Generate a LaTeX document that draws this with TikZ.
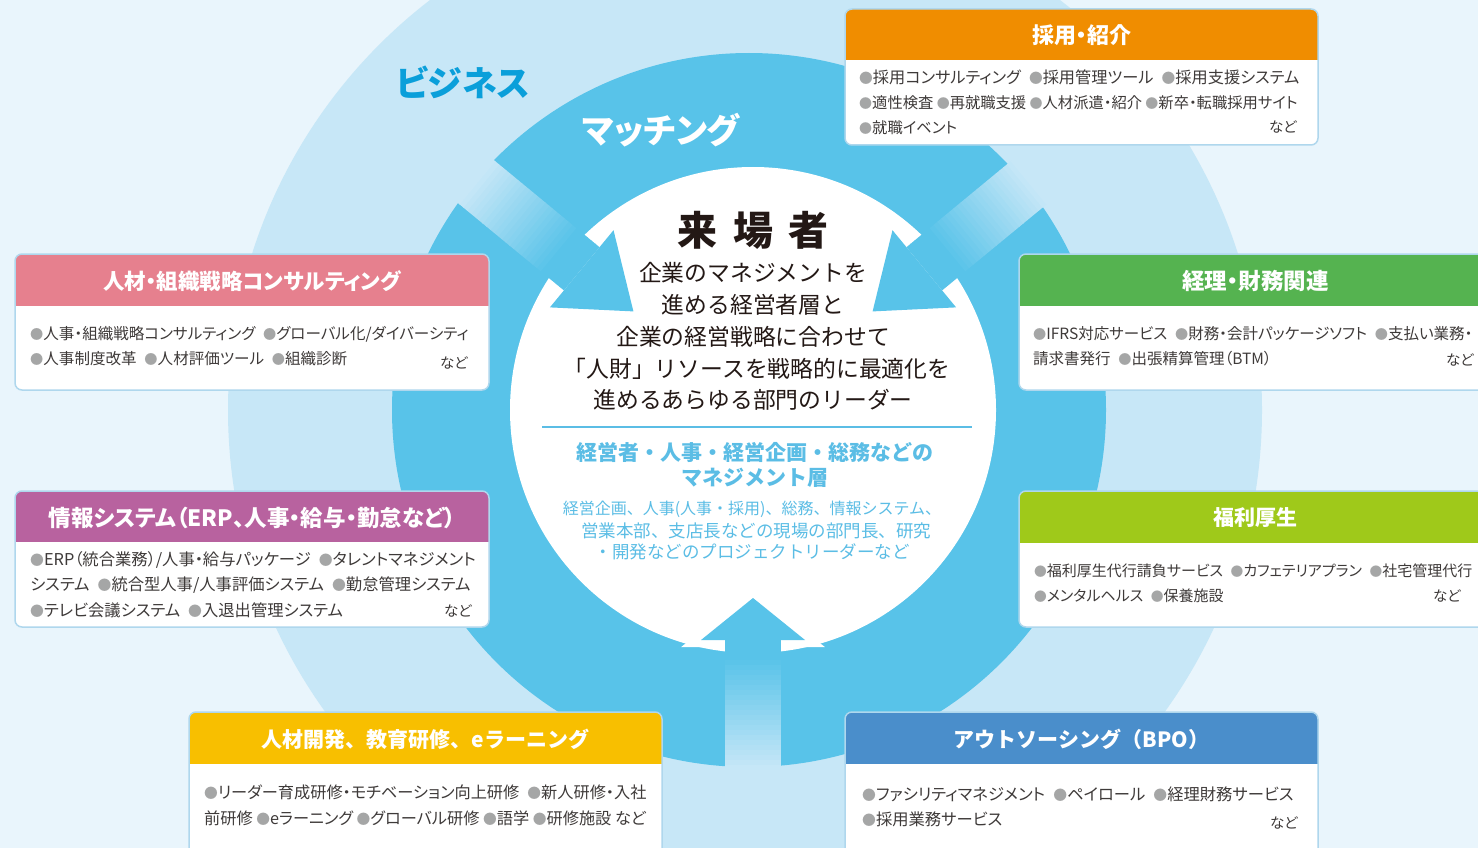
\documentclass[tikz,border=0pt]{standalone}
\usepackage{fontspec}
\setmainfont{Noto Sans CJK JP}[RawFeature=+palt]
\newfontfamily\plainjp{Noto Sans CJK JP}
\definecolor{pagebg}{HTML}{E9F5FC}
\definecolor{bigc}{HTML}{C7E7F7}
\definecolor{ring}{HTML}{58C3E9}
\definecolor{bizblue}{HTML}{0A9FDA}
\definecolor{ink}{HTML}{231815}
\definecolor{bodyink}{HTML}{3E3A39}
\definecolor{dotgray}{HTML}{A5A6A6}
\definecolor{midblue}{HTML}{5BBDE5}
\definecolor{boxedge}{HTML}{AFD7ED}
\definecolor{hdorange}{HTML}{F08D00}
\definecolor{hdpink}{HTML}{E6808E}
\definecolor{hdpurple}{HTML}{B8629F}
\definecolor{hdgreen}{HTML}{55B350}
\definecolor{hdlime}{HTML}{9FC91A}
\definecolor{hdyellow}{HTML}{F8BF00}
\definecolor{hdblue}{HTML}{4A8ECB}
\usetikzlibrary{positioning}

\newcommand{\dotb}{{\color{dotgray}\scalebox{0.85}{●}}}
\newcommand{\gap}{\hspace{0.5em}}
\newcommand{\sgap}{\hspace{0.22em}}
\newcommand{\fs}[1]{\fontsize{#1}{#1}\selectfont}

% arrow into the centre: angle, tip distance, head length, head half width
\newcommand{\inarrow}[4]{%
\begin{scope}[shift={(753,410)},rotate=#1]
  \pgfmathsetmacro{\hb}{#2+#3}
  \draw[white,line width=14pt,line join=miter] (#2,0) -- (\hb,#4) -- (\hb,-#4) -- cycle;
  \foreach \i in {0,...,27}{
    \pgfmathsetmacro{\stripr}{\hb+\i*5}
    \pgfmathsetmacro{\strippct}{max(0,min(100,(358-\stripr-2.5)/108*100))}
    \fill[ring!\strippct!bigc] (\stripr,-28) rectangle (\stripr+5.6,28);
  }
  \fill[ring] (#2,0) -- (\hb,#4) -- (\hb,-#4) -- cycle;
\end{scope}}

% box with coloured header: x1, y1, x2, y2, header bottom, colour, title, name
\newcommand{\infobox}[8]{%
  \fill[white,rounded corners=7pt] (#1,#2) rectangle (#3,#4);
  \begin{scope}
    \clip[rounded corners=7pt] (#1,#2) rectangle (#3,#4);
    \fill[#6] (#1,#2) rectangle (#3,#5);
  \end{scope}
  \draw[boxline] (#1,#2) rectangle (#3,#4);
  \node[headtext] (#8) at ({(#1+#3)/2},{(#2+#5)/2+1}) {#7};}

\begin{document}
\begin{tikzpicture}[x=1pt,y=-1pt,
    boxline/.style={draw=boxedge,line width=1.5pt,rounded corners=7pt},
    headtext/.style={text=white,font=\plainjp\bfseries\fs{21},inner sep=0pt},
    itemline/.style={anchor=west,text=bodyink,font=\fs{15.8},inner sep=0pt},
    etc/.style={anchor=east,text=bodyink,font=\fs{14.5},inner sep=0pt},
    leadtext/.style={text=ink,font=\plainjp\fs{22.8},inner sep=0pt},
    layerhead/.style={text=midblue,font=\plainjp\bfseries\fs{21},inner sep=0pt},
    layertext/.style={text=midblue,font=\plainjp\fs{17.5},inner sep=0pt}]
  \clip (0,0) rectangle (1478,848);
  \fill[pagebg] (0,0) rectangle (1478,848);
  \fill[bigc] (745,410) circle (517);
  \fill[ring] (749,410) circle (357);
  \fill[white] (753,410) circle (243);

  % three arrows
  \inarrow{140.5}{155}{67}{50}
  \inarrow{39.5}{155}{67}{50}
  \inarrow{-90}{188}{42}{52}

  \node[text=bizblue,font=\bfseries\fs{35}] (business) at (463,82) {ビジネス};
  \node[text=white,font=\bfseries\fs{34.5}] (matching) at (661,130) {マッチング};

  % centre
  \node[text=ink,font=\plainjp\bfseries\fs{40}] (visitor) at (753,230) {来\hspace{0.38em}場\hspace{0.38em}者};
  \node[leadtext] (lead1) at (753,273) {企業のマネジメントを};
  \node[leadtext] (lead2) at (753,305) {進める経営者層と};
  \node[leadtext] (lead3) at (753,337) {企業の経営戦略に合わせて};
  \node[leadtext] (lead4) at (757,369) {「人財」リソースを戦略的に最適化を};
  \node[leadtext] (lead5) at (753,400) {進めるあらゆる部門のリーダー};
  \draw[midblue,line width=2.5pt] (542,427) -- (972,427);
  \node[layerhead] (layer1) at (755,452) {経営者・人事・経営企画・総務などの};
  \node[layerhead] (layer2) at (755,478) {マネジメント層};
  \node[layertext,font=\plainjp\fs{16}] (dept1) at (752,509) {経営企画、人事(人事・採用)、総務、情報システム、};
  \node[layertext] (dept2) at (756,531) {営業本部、支店長などの現場の部門長、研究};
  \node[layertext] (dept3) at (752,552) {・開発などのプロジェクトリーダーなど};

  % boxes
  \infobox{845}{9}{1318}{145}{60}{hdorange}{\rmfamily\fs{22}採用・紹介}{recruit}
  \node[itemline,font=\fs{16.2}] (recruit1) at (859,77) {\dotb 採用コンサルティング\gap\dotb 採用管理ツール\gap\dotb 採用支援システム};
  \node[itemline,font=\fs{15.3}] (recruit2) at (859,103) {\dotb 適性検査\sgap\dotb 再就職支援\sgap\dotb 人材派遣・紹介\sgap\dotb 新卒・転職採用サイト};
  \node[itemline,font=\fs{15.3}] (recruit3) at (859,128) {\dotb 就職イベント};
  \node[etc] (recruit4) at (1297,127) {など};

  \infobox{15}{254}{489}{390}{306}{hdpink}{\rmfamily\fs{21.5}人材・組織戦略コンサルティング}{consult}
  \node[itemline,font=\fs{15.55}] (consult1) at (30,334) {\dotb 人事・組織戦略コンサルティング\gap\dotb グローバル化/ダイバーシティ};
  \node[itemline,font=\fs{15.55}] (consult2) at (30,359) {\dotb 人事制度改革\gap\dotb 人材評価ツール\gap\dotb 組織診断};
  \node[etc] (consult3) at (468,363) {など};

  \infobox{15}{491}{489}{627}{542}{hdpurple}{\rmfamily\fs{22.5}情報システム（ERP、人事・給与・勤怠など）}{system}
  \node[itemline,font=\fs{16.3}] (system1) at (30,560) {\dotb ERP（統合業務）/人事・給与パッケージ\gap\dotb タレントマネジメント};
  \node[itemline,font=\fs{16.3}] (system2) at (30,585) {システム\gap\dotb 統合型人事/人事評価システム\gap\dotb 勤怠管理システム};
  \node[itemline,font=\fs{16.3}] (system3) at (30,610) {\dotb テレビ会議システム\gap\dotb 入退出管理システム};
  \node[etc] (system4) at (472,611) {など};

  \infobox{1019}{254}{1492}{390}{306}{hdgreen}{\rmfamily\fs{22.5}経理・財務関連}{finance}
  \node[itemline,font=\fs{15.5}] (finance1) at (1033,334) {\dotb IFRS対応サービス\gap\dotb 財務・会計パッケージソフト\gap\dotb 支払い業務・};
  \node[itemline,font=\fs{15.5}] (finance2) at (1033,359) {請求書発行\gap\dotb 出張精算管理（BTM）};
  \node[etc] (finance3) at (1474,360) {など};

  \infobox{1019}{491}{1492}{627}{543}{hdlime}{福利厚生}{welfare}
  \node[itemline,font=\fs{15}] (welfare1) at (1034,571) {\dotb 福利厚生代行請負サービス\gap\dotb カフェテリアプラン\gap\dotb 社宅管理代行};
  \node[itemline,font=\fs{15}] (welfare2) at (1034,596) {\dotb メンタルヘルス\gap\dotb 保養施設};
  \node[etc] (welfare3) at (1461,596) {など};

  \infobox{189}{712}{662}{862}{764}{hdyellow}{人材開発、教育研修、eラーニング}{training}
  \node[itemline,font=\fs{16.2}] (training1) at (204,792) {\dotb リーダー育成研修・モチベーション向上研修\gap\dotb 新人研修・入社};
  \node[itemline,font=\fs{16.2}] (training2) at (204,818) {前研修\sgap\dotb eラーニング\sgap\dotb グローバル研修\sgap\dotb 語学\sgap\dotb 研修施設\sgap など};

  \infobox{845}{712}{1318}{862}{764}{hdblue}{アウトソーシング（BPO）}{outsource}
  \node[itemline,font=\fs{16.3}] (outsource1) at (862,794) {\dotb ファシリティマネジメント\gap\dotb ペイロール\gap\dotb 経理財務サービス};
  \node[itemline,font=\fs{16.3}] (outsource2) at (862,819) {\dotb 採用業務サービス};
  \node[etc] (outsource3) at (1298,823) {など};
\end{tikzpicture}
\end{document}
